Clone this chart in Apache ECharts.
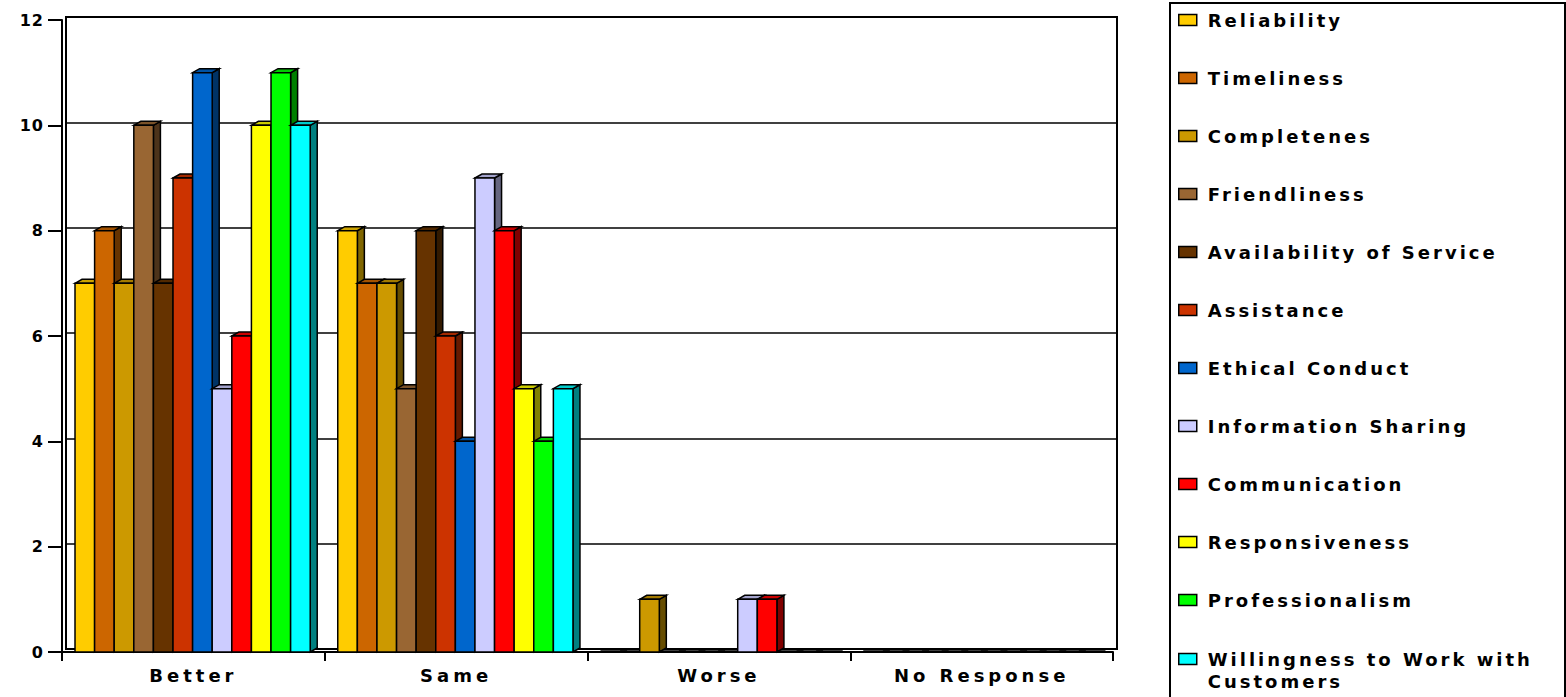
<!DOCTYPE html>
<html>
<head>
<meta charset="utf-8">
<script src="https://cdn.jsdelivr.net/npm/echarts@6/dist/echarts.min.js"></script>
<style>
  html, body { margin: 0; padding: 0; background: #fff; }
  #chart { width: 1566px; height: 697px; }
  #chart text { letter-spacing: 3px; }
  #chart text[text-anchor="middle"] { letter-spacing: 4px; }
  #chart text[text-anchor="end"] { letter-spacing: 1px; }
</style>
</head>
<body>
<div id="chart"></div>
<script>
// ---- data ----
const categories = ['Better', 'Same', 'Worse', 'No Response'];
const seriesNames = [
  'Reliability', 'Timeliness', 'Completenes', 'Friendliness',
  'Availability of Service', 'Assistance', 'Ethical Conduct',
  'Information Sharing', 'Communication', 'Responsiveness',
  'Professionalism', 'Willingness to Work with Customers'
];
const better     = [7, 8, 7, 10, 7, 9, 11, 5, 6, 10, 11, 10];
const same       = [8, 7, 7, 5, 8, 6, 4, 9, 8, 5, 4, 5];
const worse      = [0, 0, 1, 0, 0, 0, 0, 1, 1, 0, 0, 0];
const noResponse = [0, 0, 0, 0, 0, 0, 0, 0, 0, 0, 0, 0];
const colors = [
  '#FFCC00', '#CC6600', '#CC9900', '#996633', '#663300', '#CC3300',
  '#0066CC', '#CCCCFF', '#FF0000', '#FFFF00', '#00FF00', '#00FFFF'
];
const yMin = 0, yMax = 12, yInterval = 2;

// ---- styling helpers ----
function shade(hex, f) {
  const n = parseInt(hex.slice(1), 16);
  const r = Math.round(((n >> 16) & 255) * f);
  const g = Math.round(((n >> 8) & 255) * f);
  const b = Math.round((n & 255) * f);
  return 'rgb(' + r + ',' + g + ',' + b + ')';
}
const BAR_FRAC = 0.0746;   // bar width as share of category band
const START_FRAC = 0.0495; // gap before first bar in band
const DX = 7, DY = 4;      // 3D depth
const FONT = 'DejaVu Sans';

function makeRender(si) {
  return function (params, api) {
    const cat = api.value(0);
    const v = api.value(1);
    const base = api.coord([cat, 0]);
    const top = api.coord([cat, v]);
    const band = api.size([1, 0])[0];
    const bw = band * BAR_FRAC;
    const x0 = base[0] - band / 2 + band * START_FRAC + si * bw;
    const ty = top[1], by = base[1];
    const c = colors[si];
    const st = { stroke: '#000', lineWidth: 1.5, lineJoin: 'miter' };
    if (v === 0) {
      return { type: 'line', shape: { x1: x0, y1: by - 1, x2: x0 + bw + DX, y2: by - 1 },
               style: { stroke: '#000', lineWidth: 1.5 } };
    }
    return {
      type: 'group',
      children: [
        { type: 'polygon',
          shape: { points: [[x0 + bw, ty], [x0 + bw + DX, ty - DY], [x0 + bw + DX, by - DY], [x0 + bw, by]] },
          style: Object.assign({ fill: shade(c, 0.5) }, st) },
        { type: 'polygon',
          shape: { points: [[x0, ty], [x0 + DX, ty - DY], [x0 + bw + DX, ty - DY], [x0 + bw, ty]] },
          style: Object.assign({ fill: shade(c, 0.8) }, st) },
        { type: 'rect',
          shape: { x: x0, y: ty, width: bw, height: by - ty },
          style: Object.assign({ fill: c }, st) }
      ]
    };
  };
}

const series = seriesNames.map(function (name, i) {
  const vals = [better[i], same[i], worse[i], noResponse[i]];
  return {
    name: name,
    type: 'custom',
    coordinateSystem: 'cartesian2d',
    xAxisIndex: 1,
    yAxisIndex: 1,
    renderItem: makeRender(i),
    encode: { x: 0, y: 1 },
    itemStyle: { color: colors[i] },
    data: vals.map(function (v, k) { return [k, v]; })
  };
});

const legendText = {
  fontFamily: FONT, fontWeight: 'bold', fontSize: 18, color: '#000',
  lineHeight: 22, padding: [0, 0, 0, 6]
};
const legendText2 = Object.assign({}, legendText, {
  rich: {
    e: { fontFamily: FONT, fontSize: 18, lineHeight: 22, color: 'rgba(0,0,0,0)' },
    a: { fontFamily: FONT, fontWeight: 'bold', fontSize: 18, lineHeight: 22, color: '#000' }
  }
});

const chart = echarts.init(document.getElementById('chart'), null, { renderer: 'svg' });
chart.setOption({
  animation: false,
  backgroundColor: '#fff',
  grid: [
    { left: 66, right: 449, top: 17, bottom: 48, show: true, borderColor: '#000', borderWidth: 2, backgroundColor: '#fff' },
    { left: 62, right: 453, top: 20, bottom: 45 }
  ],
  xAxis: [
    { gridIndex: 0, type: 'category', data: categories, show: false },
    { gridIndex: 1, type: 'category', data: categories, boundaryGap: true,
      axisLine: { show: true, lineStyle: { color: '#000', width: 2 } },
      axisTick: { show: true, length: 9, lineStyle: { color: '#000', width: 2 } },
      axisLabel: { fontFamily: FONT, fontWeight: 'bold', fontSize: 18, color: '#000', margin: 14 },
      splitLine: { show: false } }
  ],
  yAxis: [
    { gridIndex: 0, type: 'value', min: yMin, max: yMax, interval: yInterval,
      axisLine: { show: false }, axisTick: { show: false }, axisLabel: { show: false },
      splitLine: { show: true, lineStyle: { color: '#000', width: 1.5 } } },
    { gridIndex: 1, type: 'value', min: yMin, max: yMax, interval: yInterval,
      axisLine: { show: true, lineStyle: { color: '#000', width: 2 } },
      axisTick: { show: true, length: 14, lineStyle: { color: '#000', width: 2 } },
      axisLabel: { fontFamily: FONT, fontWeight: 'bold', fontSize: 16, color: '#000', margin: 18 },
      splitLine: { show: false } }
  ],
  legend: [
    { id: 'legMain', orient: 'vertical', left: 1178, top: 9, padding: 0, itemGap: 36,
      itemWidth: 18, itemHeight: 11, icon: 'rect',
      itemStyle: { borderColor: '#000', borderWidth: 1.5 },
      textStyle: legendText,
      data: seriesNames.slice(0, 11) },
    { id: 'legLast', orient: 'vertical', left: 1178, top: 626, padding: 0,
      itemWidth: 18, itemHeight: 11, icon: 'rect',
      itemStyle: { borderColor: '#000', borderWidth: 1.5 },
      textStyle: legendText2,
      formatter: function () { return '{e|x}\n{a|Willingness to Work with}\n{a|Customers}'; },
      data: [seriesNames[11]] }
  ],
  graphic: [
    { type: 'rect', left: 1169, top: 2, z: -1,
      shape: { width: 395, height: 710 },
      style: { fill: '#fff', stroke: '#000', lineWidth: 2 } }
  ],
  series: series
});
</script>
</body>
</html>
